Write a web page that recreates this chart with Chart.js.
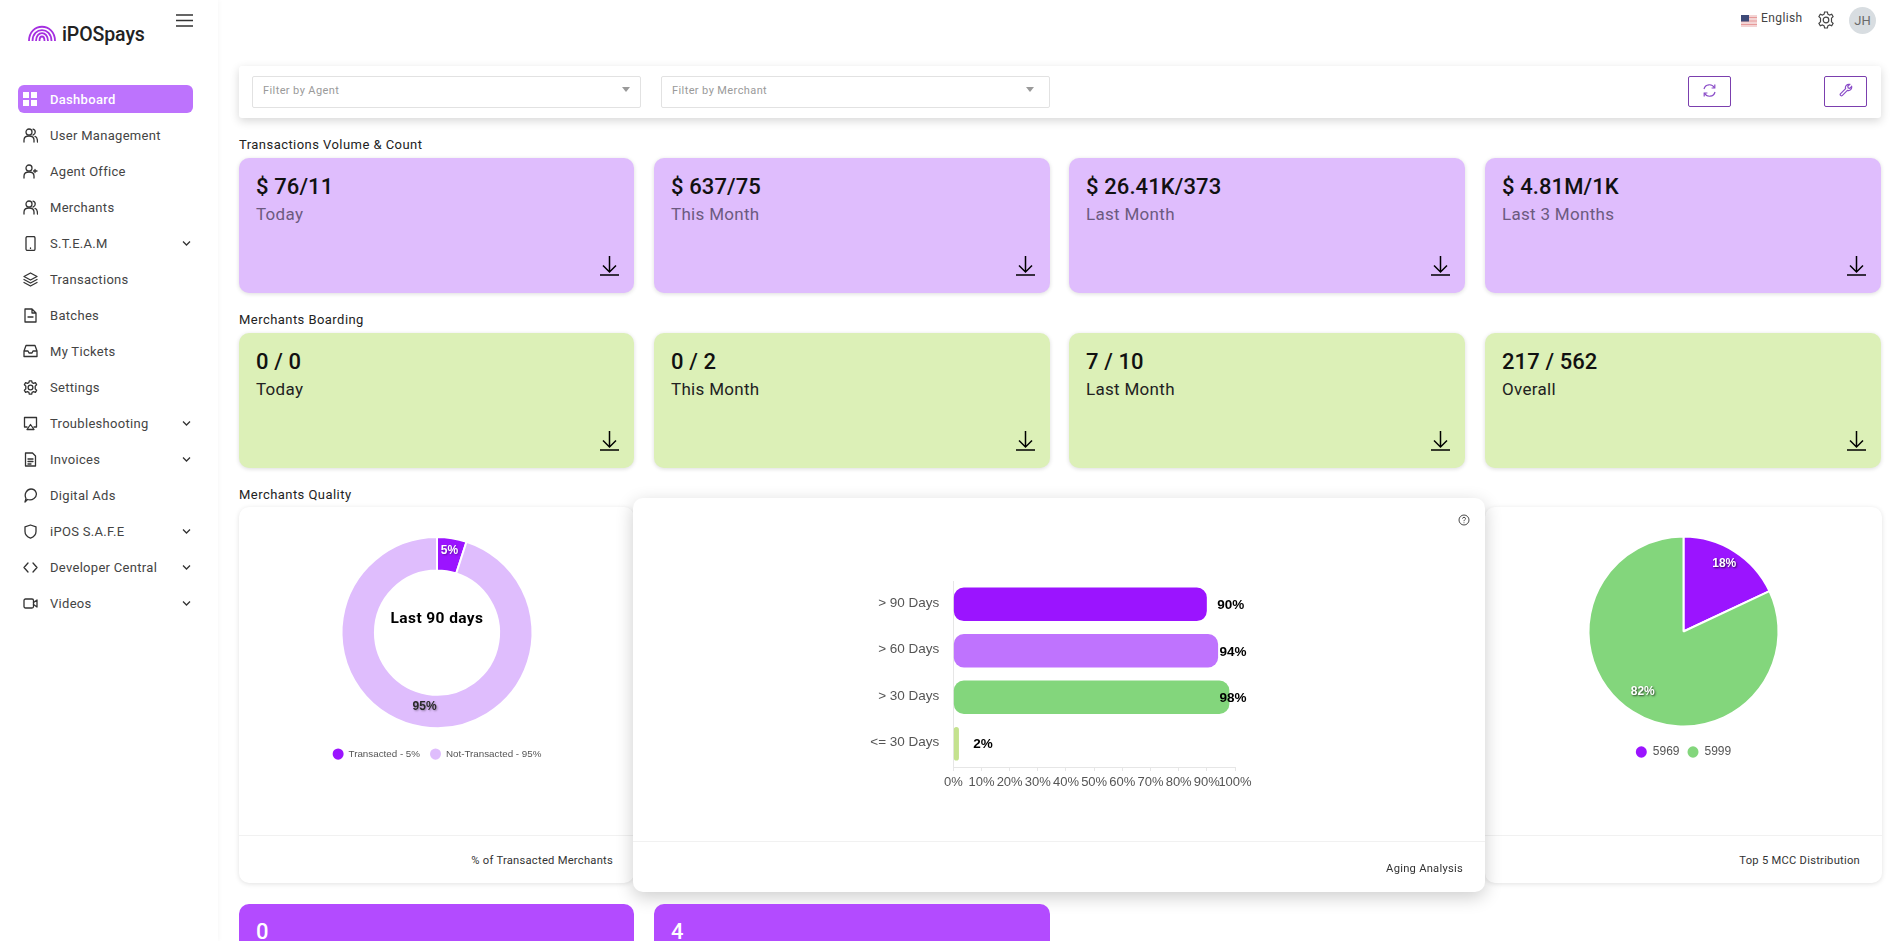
<!DOCTYPE html>
<html>
<head>
<meta charset="utf-8">
<title>iPOSpays Dashboard</title>
<script src="https://cdn.jsdelivr.net/npm/chart.js@4"></script>
<style>
html,body{margin:0;padding:0;background:#fff;width:1898px;height:941px;overflow:hidden;font-family:Roboto,"Noto Sans",sans-serif;color:#222}
.abs,.card,.kpi,.nav,.title{position:absolute}
.side{position:absolute;left:0;top:0;width:218px;height:941px;background:#fff;box-shadow:1px 0 5px rgba(0,0,0,.035)}
.logo{position:absolute;left:62px;top:23px;font-size:19.5px;font-weight:500;color:#222;letter-spacing:-.1px}
.pill{position:absolute;left:18px;top:85px;width:175px;height:28px;border-radius:6px;background:#bd73fd}
.nav{left:50px;font-size:13px;letter-spacing:.3px;color:#444;height:18px;line-height:18px;white-space:nowrap}
.ico{position:absolute;fill:none;stroke:#333;stroke-width:1.3;stroke-linecap:round;stroke-linejoin:round}
.filterbar{position:absolute;left:239px;top:66px;width:1642px;height:52px;background:#fff;border-radius:3px;box-shadow:0 3px 10px rgba(0,0,0,.16)}
.inp{position:absolute;top:76px;height:30px;border:1px solid #e2e2e2;border-radius:2px;background:#fff;box-sizing:content-box;font-size:11px;letter-spacing:.4px;color:#9a9a9a;line-height:27px;text-indent:10px}
.caret{position:absolute;top:87px;width:0;height:0;border-left:4px solid transparent;border-right:4px solid transparent;border-top:5px solid #9a9a9a}
.btn{position:absolute;top:76px;width:41px;height:29px;border:1px solid #7b3fae;border-radius:2px}
.title{left:239px;font-size:13px;letter-spacing:.45px;color:#222;height:18px;line-height:18px;white-space:nowrap}
.kpi{height:135px;border-radius:10px;box-shadow:0 1px 4px rgba(0,0,0,.14);width:395px}
.kpi .v{position:absolute;left:17px;top:15px;font-size:22px;font-weight:500;line-height:28px;color:#111;letter-spacing:.1px;white-space:nowrap}
.kpi .s{position:absolute;left:17px;top:44px;font-size:17px;line-height:24px;letter-spacing:.3px;white-space:nowrap}
.dl{position:absolute;right:15px;top:98px}
.card{background:#fff;border-radius:10px;box-shadow:0 1px 5px rgba(0,0,0,.12)}
.foot{position:absolute;font-size:11.2px;letter-spacing:.25px;color:#333;white-space:nowrap;line-height:14px}
.line{position:absolute;height:1px;background:#f1f1f1}
.box{position:absolute}
.low{position:absolute;top:904px;height:60px;width:395px;border-radius:10px;background:#b34bff;color:#fff;font-size:22px;font-weight:500}
.low span{position:absolute;left:17px;top:14px;line-height:28px}
</style>
</head>
<body>
<div class="side"></div>
<div class="logo">iPOSpays</div>
<svg class="abs" style="left:28px;top:25px" width="28" height="17" viewBox="0 0 28 17" fill="none" stroke="#a52fe0" stroke-width="1.8">
<path d="M1 16C1 -3 27 -3 27 16"/><path d="M4.5 16C4.5 1.5 23.5 1.5 23.5 16"/><path d="M8 16C8 5.5 20 5.5 20 16"/><path d="M11.5 16C11.5 10 16.5 10 16.5 16"/>
</svg>
<svg class="abs" style="left:176px;top:13px" width="17" height="15" stroke="#333" stroke-width="1.6"><path d="M0 2H17M0 7.5H17M0 13H17"/></svg>
<div class="pill"></div>
<div id="navbox"></div>

<div class="filterbar"></div>
<div class="inp abs" style="left:252px;width:387px">Filter by Agent</div><div class="caret" style="left:622px"></div>
<div class="inp abs" style="left:661px;width:387px">Filter by Merchant</div><div class="caret" style="left:1026px"></div>
<div class="btn" style="left:1688px"></div>
<svg class="abs" style="left:1702px;top:83px" width="15" height="15" viewBox="0 0 15 15" fill="none" stroke="#8a4cc8" stroke-width="1.2"><path d="M2 6A5.6 5.6 0 0 1 12.5 5M13 9A5.6 5.6 0 0 1 2.5 10"/><path d="M12.8 1.6V5H9.6M2.2 13.4V10H5.4"/></svg>
<div class="btn" style="left:1824px"></div>
<svg class="abs" style="left:1839px;top:83px" width="14" height="14" viewBox="0 0 14 14" fill="none" stroke="#8a4cc8" stroke-width="1.2"><path d="M1.4 10.8L6.6 5.6C5.8 3 8 .8 10.7 1.4L8.8 3.3 9.2 4.9 10.8 5.3 12.6 3.4C13.2 6 11 8.2 8.4 7.4L3.2 12.6C2.2 13.4.6 11.9 1.4 10.8Z"/></svg>

<svg class="abs" style="left:1741px;top:15px" width="16" height="12"><rect width="16" height="12" fill="#f3d4d4"/><path d="M0 2.5H16M0 6H16M0 9.5H16" stroke="#e79a9a" stroke-width="1"/><rect width="8" height="6.5" fill="#3e4a78"/></svg>
<div class="abs" style="left:1761px;top:11px;font-size:12px;letter-spacing:.4px;color:#444;line-height:15px">English</div>
<svg class="abs" style="left:1817px;top:11px" width="18" height="18" viewBox="0 0 18 18" fill="none" stroke="#444" stroke-width="1.2"><circle cx="9" cy="9" r="2.8"/><path d="M7.6 1H10.4L10.9 3.2 12.6 4 14.7 3.2 16.1 5.6 14.5 7.2V9V10.8L16.1 12.4 14.7 14.8 12.6 14 10.9 14.8 10.4 17H7.6L7.1 14.8 5.4 14 3.3 14.8 1.9 12.4 3.5 10.8V7.2L1.9 5.6 3.3 3.2 5.4 4 7.1 3.2Z"/></svg>
<div class="abs" style="left:1849px;top:7px;width:27px;height:27px;border-radius:50%;background:#d8dde1;color:#6a6a6a;font-size:13px;line-height:28px;text-align:center">JH</div>

<div class="title" style="top:136px">Transactions Volume &amp; Count</div>
<div class="title" style="top:311px">Merchants Boarding</div>
<div class="title" style="top:486px">Merchants Quality</div>
<div id="kpibox"></div>

<div class="card" style="left:239px;top:507px;width:395px;height:376px"></div>
<div class="line" style="left:239px;top:835px;width:395px"></div>
<div class="foot" style="right:1285px;top:854px">% of Transacted Merchants</div>
<div class="box" style="left:239px;top:526px;width:396px;height:243px"><canvas id="donutChart"></canvas></div>

<div class="card" style="left:1485px;top:507px;width:397px;height:376px"></div>
<div class="line" style="left:1485px;top:835px;width:397px"></div>
<div class="foot" style="right:38px;top:854px">Top 5 MCC Distribution</div>
<div class="box" style="left:1485px;top:525px;width:397px;height:243px"><canvas id="pieChart"></canvas></div>

<div class="card" style="left:633px;top:498px;width:852px;height:394px;box-shadow:0 5px 18px rgba(0,0,0,.2)"></div>
<div class="line" style="left:633px;top:841px;width:852px"></div>
<div class="foot" style="right:435px;top:862px">Aging Analysis</div>
<svg class="abs" style="left:1458px;top:514px" width="12" height="12" viewBox="0 0 12 12" fill="none" stroke="#333" stroke-width=".9"><circle cx="6" cy="6" r="5"/><path d="M4.5 4.6C4.6 2.8 7.5 2.9 7.5 4.6 7.5 5.8 6 5.8 6 7.2M6 8.4V9.2"/></svg>
<div class="box" style="left:840px;top:559px;width:420px;height:241px"><canvas id="barChart"></canvas></div>

<div class="low" style="left:239px"><span>0</span></div>
<div class="low" style="left:654px;width:396px"><span>4</span></div>

<script>
// dashboard numbers
const navItems = ['Dashboard','User Management','Agent Office','Merchants','S.T.E.A.M','Transactions','Batches','My Tickets','Settings','Troubleshooting','Invoices','Digital Ads','iPOS S.A.F.E','Developer Central','Videos'];
const navWithChevron = ['S.T.E.A.M','Troubleshooting','Invoices','iPOS S.A.F.E','Developer Central','Videos'];
const volumeValues = ['$ 76/11','$ 637/75','$ 26.41K/373','$ 4.81M/1K'];
const volumeLabels = ['Today','This Month','Last Month','Last 3 Months'];
const boardingValues = ['0 / 0','0 / 2','7 / 10','217 / 562'];
const boardingLabels = ['Today','This Month','Last Month','Overall'];

const donutLabels = ['Transacted - 5%','Not-Transacted - 95%'];
const donutValues = [5,95];
const pieLabels = ['5969','5999'];
const pieValues = [18,82];
const agingLabels = ['> 90 Days','> 60 Days','> 30 Days','<= 30 Days'];
const agingValues = [90,94,98,2];
const agingTicks = [0,10,20,30,40,50,60,70,80,90,100];

const PURPLE = '#9b14ff', LILAC = '#dfbdfd', VIOLET = '#bf73fe', GREEN = '#83d67c', LIME = '#c4e28e';

const icons = {
  'Dashboard':'<path fill="#fff" stroke="none" d="M0 0H6V6H0ZM8 0H14V6H8ZM0 8H6V14H0ZM8 8H14V14H8Z"/>',
  'User Management':'<circle cx="6" cy="4" r="3"/><path d="M1 14V12C1 9 3 8 6 8S11 9 11 12V14M10 1.2A3 3 0 0 1 10 7M12 8.4C14 9 14.5 10.5 14.5 14"/>',
  'Agent Office':'<circle cx="6" cy="4" r="3"/><path d="M1 14V12C1 9 3 8 6 8S11 9 11 12V14M12 5.5V8.5M10.5 7H14"/>',
  'Merchants':'<circle cx="6" cy="4" r="3"/><path d="M1 14V12C1 9 3 8 6 8S11 9 11 12V14M10 1.2A3 3 0 0 1 10 7M12 8.4C14 9 14.5 10.5 14.5 14"/>',
  'S.T.E.A.M':'<rect x="3" y="0.5" width="9" height="14" rx="1.5"/><path d="M7.5 12V12.4"/>',
  'Transactions':'<path d="M7.5 1L14 4.5 7.5 8 1 4.5ZM1 7.5L7.5 11 14 7.5M1 10.5L7.5 14 14 10.5"/>',
  'Batches':'<path d="M2 1H9L13 5V14H2ZM9 1V5H13M5 9H10"/>',
  'My Tickets':'<path d="M1 7L3 1.5H12L14 7V12.5H1ZM1 7H5L6 9H9L10 7H14"/>',
  'Settings':'<circle cx="7.5" cy="7.5" r="2.4"/><path d="M6.3 .8H8.7L9.1 2.7 10.6 3.4 12.4 2.7 13.6 4.7 12.2 6.1V8.9L13.6 10.3 12.4 12.3 10.6 11.6 9.1 12.3 8.7 14.2H6.3L5.9 12.3 4.4 11.6 2.6 12.3 1.4 10.3 2.8 8.9V6.1L1.4 4.7 2.6 2.7 4.4 3.4 5.9 2.7Z"/>',
  'Troubleshooting':'<path d="M4 11H1.5V1.5H13.5V11H11M7.5 8.5L11 13.5H4Z"/>',
  'Invoices':'<path d="M2.5 1H9.5L12.5 4V14H2.5ZM5 7H10M5 9.5H10M5 12H8"/>',
  'Digital Ads':'<path d="M2 14L3 10.5C.5 5.5 4.5 1 8 1 13 1 15.5 7 11 10.5 9 12 6 12 4.5 11.5Z"/>',
  'iPOS S.A.F.E':'<path d="M7.5 1L13 2.8V7.5C13 11 10.5 13 7.5 14.2 4.5 13 2 11 2 7.5V2.8Z"/>',
  'Developer Central':'<path d="M5 3L1 7.5 5 12M10 3L14 7.5 10 12"/>',
  'Videos':'<rect x="1" y="3" width="9.5" height="9" rx="1.5"/><path d="M10.5 6.5L14 4V11L10.5 8.5"/>'
};

// sidebar and kpi cards
const navbox = document.getElementById('navbox');
navItems.forEach(function(name, i) {
  let y = 99.7 + 36 * i;
  let isActive = i == 0;
  navbox.innerHTML += '<svg class="ico" style="left:23px;top:' + (y - 7.5) + 'px" width="15" height="15" viewBox="0 0 15 15">' + icons[name] + '</svg>';
  navbox.innerHTML += '<div class="nav" style="top:' + (y - 9) + 'px;' + (isActive ? 'color:#fff;font-weight:500' : '') + '">' + name + '</div>';
  if (navWithChevron.includes(name)) {
    navbox.innerHTML += '<svg class="abs" style="left:182px;top:' + (y - 4) + 'px" width="9" height="7" fill="none" stroke="#333" stroke-width="1.3"><path d="M1 1.5L4.5 5 8 1.5"/></svg>';
  }
});

function add_kpi_row(values, labels, top, bg, labelColor) {
  const lefts = [239,654,1069,1485];
  const kpibox = document.getElementById('kpibox');
  values.forEach(function(val, i) {
    let width = i == 0 ? 395 : 396;
    kpibox.innerHTML += '<div class="kpi" style="left:' + lefts[i] + 'px;top:' + top + 'px;background:' + bg + ';width:' + width + 'px">'
      + '<div class="v">' + val + '</div><div class="s" style="color:' + labelColor + '">' + labels[i] + '</div>'
      + '<svg class="dl" width="19" height="20" fill="none" stroke="#000" stroke-width="1.5"><path d="M9.5 0V16M3 9.5L9.5 16 16 9.5M0 19H19"/></svg></div>';
  });
}
add_kpi_row(volumeValues, volumeLabels, 158, LILAC, '#6c5a80');
add_kpi_row(boardingValues, boardingLabels, 333, '#dcf0b7', '#222');

// writes the percent on each slice or bar
const valueLabels = {
  id: 'valueLabels',
  afterDatasetsDraw(chart, args, opts) {
    let ctx = chart.ctx;
    let meta = chart.getDatasetMeta(0);
    let values = chart.data.datasets[0].data;
    ctx.save();
    ctx.textAlign = 'center';
    ctx.textBaseline = 'middle';
    meta.data.forEach(function(el, i) {
      let x, y;
      if (chart.config.type == 'bar') {
        x = Math.min(el.x + 24, chart.chartArea.right - 2);
        y = el.y + 1;
      } else {
        let mid = (el.startAngle + el.endAngle) / 2;
        x = el.x + Math.cos(mid) * el.outerRadius * opts.ratio;
        y = el.y + Math.sin(mid) * el.outerRadius * opts.ratio - 4;
      }
      ctx.font = opts.font;
      ctx.fillStyle = opts.colors[i];
      if (opts.shadow) {
        ctx.shadowColor = opts.shadow;
        ctx.shadowBlur = 2;
        ctx.shadowOffsetX = 1;
        ctx.shadowOffsetY = 1;
      }
      ctx.fillText(values[i] + '%', x, y);
    });
    ctx.restore();
  }
};

const centerText = {
  id: 'centerText',
  afterDraw(chart, args, opts) {
    if (!opts.text) return;
    let ctx = chart.ctx;
    let arc = chart.getDatasetMeta(0).data[0];
    ctx.save();
    ctx.font = opts.font;
    ctx.fillStyle = '#000';
    ctx.textAlign = 'center';
    ctx.textBaseline = 'middle';
    ctx.letterSpacing = '0.4px';
    ctx.fillText(opts.text, arc.x, arc.y + opts.dy);
    ctx.restore();
  }
};

function legend_opts(size, gap) {
  return {
    position: 'bottom',
    labels: {
      usePointStyle: true, pointStyle: 'circle', pointStyleWidth: 11, boxHeight: 8,
      padding: gap, color: '#555',
      font: {family: '"Liberation Sans"', size: size},
      generateLabels(chart) {
        // same items as the default, without the white ring around the dots
        return Chart.overrides.doughnut.plugins.legend.labels.generateLabels(chart).map(function(item) {
          item.lineWidth = 0;
          return item;
        });
      }
    }
  };
}

new Chart(document.getElementById('donutChart'), {
  type: 'doughnut',
  data: {
    labels: donutLabels,
    datasets: [{data: donutValues, backgroundColor: [PURPLE, LILAC], borderColor: '#fff', borderWidth: 2}]
  },
  options: {
    responsive: true, maintainAspectRatio: false, animation: false,
    radius: 95.5, cutout: '65%',
    plugins: {
      tooltip: {enabled: false},
      legend: legend_opts(9.8, 10),
      valueLabels: {ratio: 0.83, font: 'bold 12px "Liberation Sans"', colors: ['#fff','#2a2a2a'], shadow: 'rgba(0,0,0,.35)'},
      centerText: {text: 'Last 90 days', font: 'bold 15.5px Roboto', dy: -13}
    }
  },
  plugins: [valueLabels, centerText]
});

new Chart(document.getElementById('pieChart'), {
  type: 'pie',
  data: {
    labels: pieLabels,
    datasets: [{data: pieValues, backgroundColor: [PURPLE, GREEN], borderColor: '#fff', borderWidth: 2}]
  },
  options: {
    responsive: true, maintainAspectRatio: false, animation: false,
    radius: 95,
    plugins: {
      tooltip: {enabled: false},
      legend: legend_opts(12, 8),
      valueLabels: {ratio: 0.8, font: 'bold 12px "Liberation Sans"', colors: ['#fff','#fff'], shadow: 'rgba(0,0,0,.7)'}
    }
  },
  plugins: [valueLabels]
});

new Chart(document.getElementById('barChart'), {
  type: 'bar',
  data: {
    labels: agingLabels,
    datasets: [{
      data: agingValues,
      backgroundColor: [PURPLE, VIOLET, GREEN, LIME],
      borderRadius: 10, borderSkipped: false
    }]
  },
  options: {
    indexAxis: 'y',
    responsive: true, maintainAspectRatio: false, animation: false,
    layout: {padding: {right: 25}},
    scales: {
      x: {
        min: 0, max: 100,
        afterBuildTicks(axis) { axis.ticks = agingTicks.map(function(v) { return {value: v}; }); },
        afterFit(axis) { axis.height = 33; },
        grid: {drawOnChartArea: false, color: '#e6e6e6', tickLength: 4},
        border: {color: '#e6e6e6'},
        ticks: {
          autoSkip: false, maxRotation: 0, minRotation: 0, padding: 4,
          color: '#555', font: {family: '"Liberation Sans"', size: 13},
          callback: function(v) { return v + '%'; }
        }
      },
      y: {
        afterFit(axis) { axis.width = 113.3; },
        grid: {display: true, drawOnChartArea: false, drawTicks: false},
        border: {color: '#e6e6e6'},
        ticks: {padding: 14, labelOffset: -1.5, color: '#555', font: {family: '"Liberation Sans"', size: 13.5}}
      }
    },
    plugins: {
      tooltip: {enabled: false},
      legend: {display: false},
      valueLabels: {font: 'bold 13.5px "Liberation Sans"', colors: ['#000','#000','#000','#000']}
    }
  },
  plugins: [valueLabels]
});
</script>
</body>
</html>
